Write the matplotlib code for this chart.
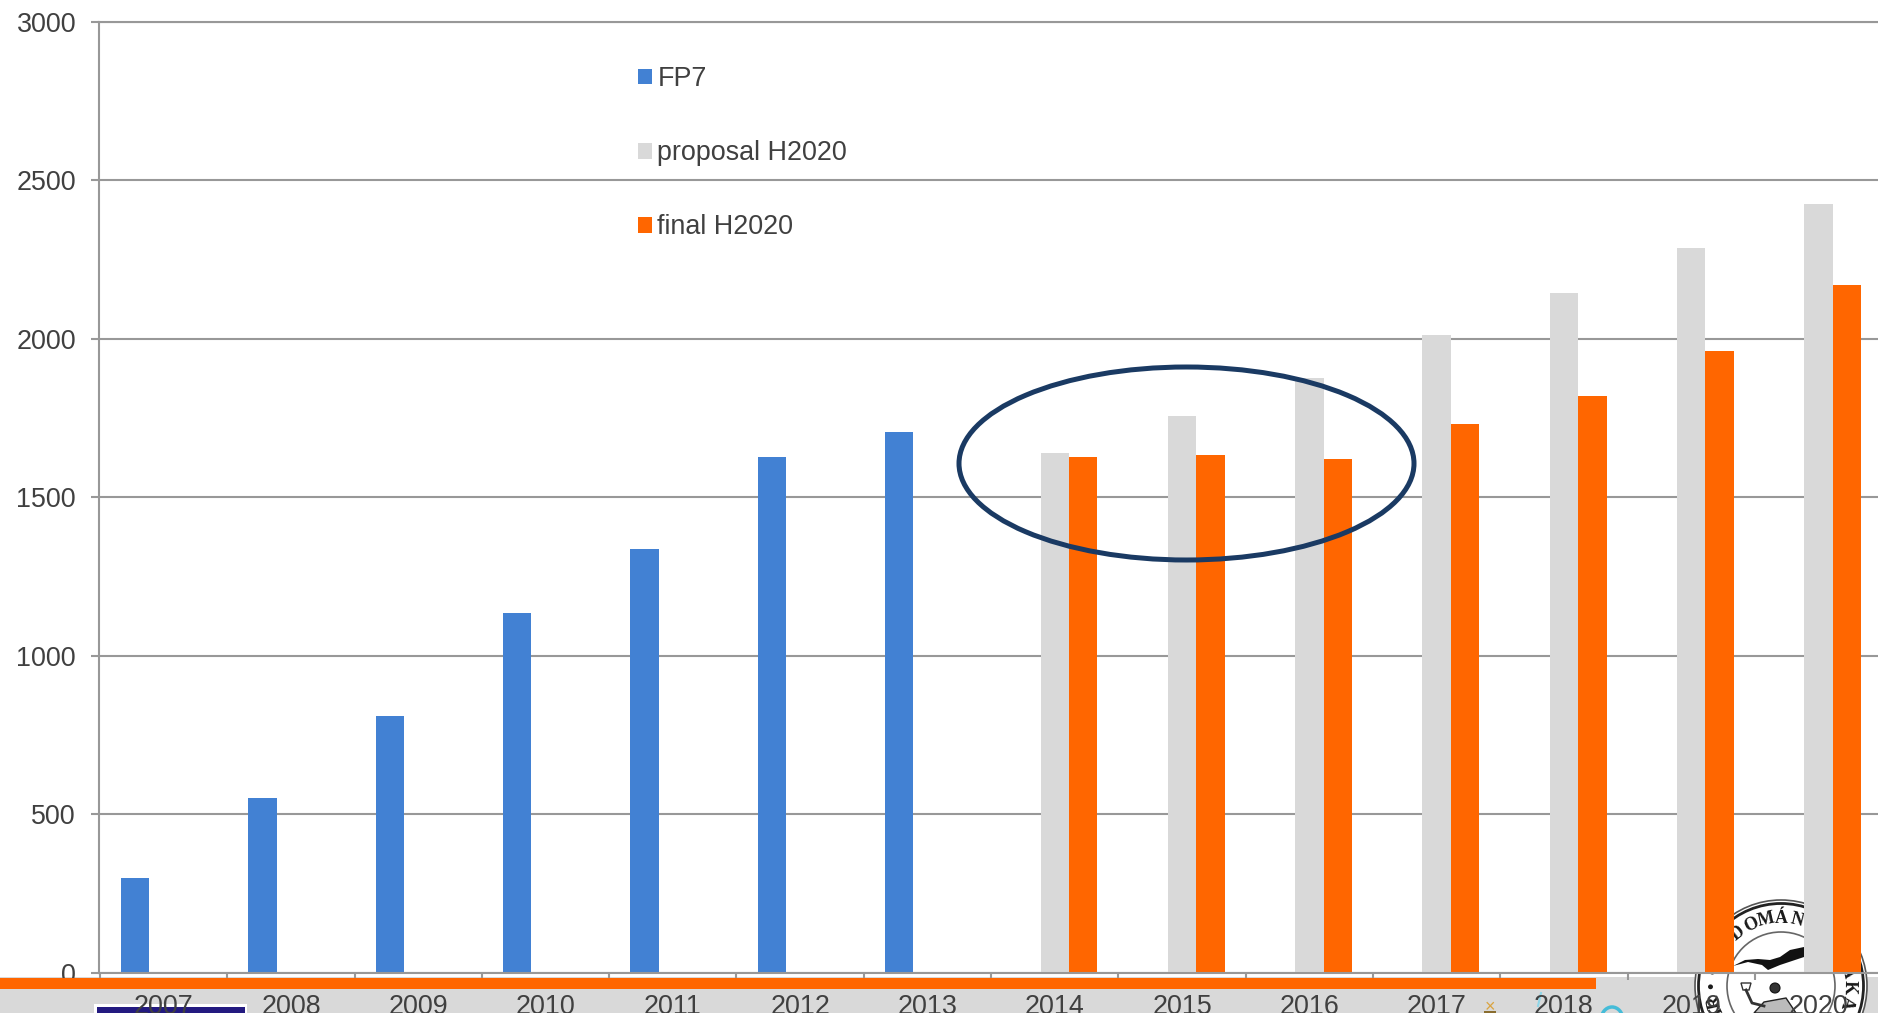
#FP7 and H2020 yearly budget bars, slide screenshot with footer strip and seal
import numpy as np
import matplotlib
matplotlib.use('Agg')
import matplotlib.pyplot as plt
from matplotlib.patches import Rectangle, Ellipse, Circle, Polygon, Arc

plt.rcParams['font.family'] = ['Liberation Sans', 'DejaVu Sans']

years = ['2007','2008','2009','2010','2011','2012','2013','2014','2015','2016','2017','2018','2019','2020']
fp7 = [300, 550, 810, 1135, 1335, 1625, 1705]
proposal = [1640, 1755, 1875, 2010, 2145, 2285, 2425]
final = [1625, 1632, 1620, 1730, 1820, 1960, 2170]
yticks = [0, 500, 1000, 1500, 2000, 2500, 3000]

W = 1878; H = 1013
txt = '#404040'
grid = '#989898'
fs = 19.4

fig = plt.figure(figsize=(W/100, H/100), dpi=100, facecolor='white')

##### pixel axes behind the chart, footer and seal
bg = fig.add_axes([0,0,1,1], zorder=0)
bg.set_xlim(0,W); bg.set_ylim(H,0); bg.axis('off')
bg.add_patch(Rectangle((0,977), W, 36, color='#d9d9d9', lw=0))
bg.add_patch(Rectangle((94,1004), 153, 12, color='white', lw=0))
bg.add_patch(Rectangle((97,1007), 148, 10, color='#231a80', lw=0))
# little logo bits in the footer
bg.text(1490, 1008, '×', color='#d9a441', fontsize=13, ha='center', va='center')
bg.add_patch(Rectangle((1484,1011), 12, 3, color='#8a6d2f', lw=0))
bg.add_patch(Arc((1612,1020), 22, 26, theta1=180, theta2=360, color='#45bcd8', lw=2.5))
bg.plot([1541,1538],[993,1006], color='#8fd6e8', lw=1.5)

# seal
sx = 1781; sy = 986
bg.add_patch(Circle((sx,sy), 86, fc='white', ec='#555555', lw=1.2))
bg.add_patch(Circle((sx,sy), 82.5, fc='none', ec='#222222', lw=2))
bg.add_patch(Circle((sx,sy), 54, fc='none', ec='#666666', lw=1.2))
letters = ['T','U','D','O','M','Á','N','Y','O','S','A','K','A','•','R','•','M']
angles = [-65,-52,-39,-26,-13,0,14,27,40,53,78,91,104,-90,-103,-78,-116]
for c, a in zip(letters, angles):
    r = np.radians(a)
    bg.text(sx+68*np.sin(r), sy-68*np.cos(r), c, rotation=-a, rotation_mode='anchor',
            ha='center', va='center', fontsize=13, family='Liberation Serif',
            fontweight='bold', color='#1a1a1a')
bird = [(1733,966),(1745,960),(1758,959),(1770,960),(1780,957),(1790,950),(1804,947),
        (1804,957),(1792,961),(1780,965),(1768,970),(1762,965),(1748,962)]
bg.add_patch(Polygon(bird, color='#111111', lw=0))
# the figure with the cup
bg.add_patch(Circle((1775,988), 5, fc='#333333', ec='#111111', lw=0.8))
bg.add_patch(Polygon([(1741,983),(1751,983),(1749,990),(1743,990)], fc='white', ec='#333333', lw=1))
bg.plot([1746,1752,1764],[990,1003,1006], color='#333333', lw=2)
bg.add_patch(Polygon([(1764,1002),(1786,998),(1796,1013),(1754,1013)], fc='#bbbbbb', ec='#222222', lw=1))

##### the chart itself
left = 99; right = W; top = 21.5; bottom = 972.7
step = 127.3
wd = 0.223
ax = fig.add_axes([left/W, 1-bottom/H, (right-left)/W, (bottom-top)/H], zorder=1)
ax.patch.set_alpha(0)
x = np.arange(len(years))
ax.bar(x[:7]-wd, fp7, wd, color='#4281d3', label='FP7', zorder=3)
ax.bar(x[7:], proposal, wd, color='#d9d9d9', label='proposal H2020', zorder=3)
ax.bar(x[7:]+wd, final, wd, color='#ff6600', label='final H2020', zorder=3)
ax.set_ylim(0,3000)
ax.set_yticks(yticks)
ax.set_xticks(x)
ax.set_xticklabels(years)
ax.set_xticks(np.arange(-0.5,13.5,1), minor=True)
x0 = -0.5-1/step
ax.set_xlim(x0, x0+(right-left)/step)
ax.tick_params(axis='x', which='major', length=0, pad=15, labelsize=fs, labelcolor=txt)
ax.tick_params(axis='x', which='minor', length=5, width=1.5, color=grid)
ax.tick_params(axis='y', length=5.5, width=1.5, color=grid, pad=11, labelsize=fs, labelcolor=txt)
ax.yaxis.grid(True, color=grid, lw=1.5, zorder=1)
ax.set_axisbelow(True)
for s in ['top','right']:
    ax.spines[s].set_visible(False)
for s in ['left','bottom']:
    ax.spines[s].set_color(grid)
    ax.spines[s].set_linewidth(1.5)
ax.spines['bottom'].set_zorder(5)
ax.plot([0,1],[1,1], transform=ax.transAxes, color=grid, lw=1.5, clip_on=False)

leg = ax.legend(loc='upper left', bbox_to_anchor=(638/W, 1-66/H), bbox_transform=fig.transFigure,
                frameon=False, fontsize=fs, labelcolor=txt, borderpad=0, borderaxespad=0,
                handlelength=0.52, handleheight=0.52, handletextpad=0.2, labelspacing=1.79)

##### pixel axes on top, circle and orange strip
fg = fig.add_axes([0,0,1,1], zorder=2)
fg.set_xlim(0,W); fg.set_ylim(H,0); fg.axis('off'); fg.patch.set_alpha(0)
fg.add_patch(Rectangle((0,977.5), 1596, 11.5, color='#ff6600', lw=0))
fg.add_patch(Ellipse((1186.5,463.5), 455, 193, fc='none', ec='#1a3a63', lw=3.6))

plt.savefig('out.png', dpi=100)
plt.clf()
